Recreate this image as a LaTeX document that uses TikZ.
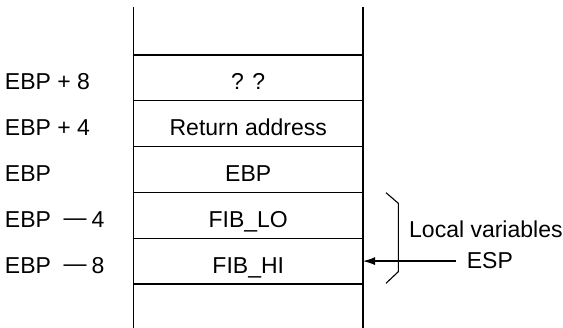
\documentclass[tikz,border=0pt]{standalone}
\usepackage{fontspec}
\setmainfont{Liberation Sans}
\usetikzlibrary{arrows.meta,positioning}

\tikzset{
    slot/.style={draw, line width=1.1pt, minimum width=229.5pt, minimum height=45.8pt,
        inner sep=0pt, outer sep=0pt, text height=24pt, text depth=0pt},
    wall/.style={line width=1.3pt},
    addr/.style={anchor=base west, inner sep=0pt},
    pointer/.style={line width=1.2pt, -{Latex[length=12pt,width=8pt]}},
}

\begin{document}
\begin{tikzpicture}[x=1pt, y=-1pt, font=\fontsize{23}{27}\selectfont]
    \useasboundingbox (0,0) rectangle (563,328);
    \node[slot] (s1) at (248.25,77.9) {? ?};
    \node[slot, below=0pt of s1] (s2) {Return address};
    \node[slot, below=0pt of s2] (s3) {EBP};
    \node[slot, below=0pt of s3] (s4) {FIB\_LO};
    \node[slot, below=0pt of s4] (s5) {FIB\_HI};
    \draw[wall] ([yshift=48pt]s1.north west) -- ([yshift=-45pt]s5.south west);
    \draw[wall] ([yshift=48pt]s1.north east) -- ([yshift=-45pt]s5.south east);
    \draw[line width=1.6pt] (s5.south west) -- (s5.south east);
    \coordinate (lft) at (4.8,0);
    \node[addr] (o1) at (s1.base -| lft) {EBP + 8};
    \node[addr] (o2) at (s2.base -| lft) {EBP + 4};
    \node[addr] (o3) at (s3.base -| lft) {EBP};
    \node[addr] (o4) at (s4.base -| lft) {EBP\hspace{12.5pt}\raisebox{1.5pt}{—}\hspace{5pt}4};
    \node[addr] (o5) at (s5.base -| lft) {EBP\hspace{12.5pt}\raisebox{1.5pt}{—}\hspace{5pt}8};
    \draw[line width=1.1pt] (386,192.7) -- (398.3,203.3) -- (398.3,271.7) -- (386,283.3);
    \node[addr] (locals) at (409,238) {Local variables};
    \node[addr] (esp) at (466.7,269) {ESP};
    \coordinate (espfoot) at ([xshift=-10.8pt]esp.west);
    \draw[pointer] (espfoot |- s5.east) -- (s5.east);
\end{tikzpicture}
\end{document}
